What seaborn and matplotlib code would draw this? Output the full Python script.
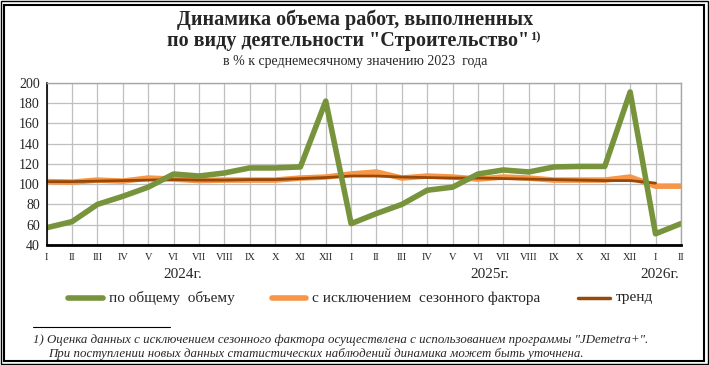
import numpy as np
import pandas as pd
import matplotlib.pyplot as plt
import seaborn as sns
from matplotlib.patches import Rectangle
from matplotlib.lines import Line2D

months = ['I', 'II', 'III', 'IV', 'V', 'VI', 'VII', 'VIII', 'IX', 'X', 'XI', 'XII',
          'I', 'II', 'III', 'IV', 'V', 'VI', 'VII', 'VIII', 'IX', 'X', 'XI', 'XII',
          'I', 'II']
years = ['2024г.', '2025г.', '2026г.']

total = [57, 63, 80, 88, 97, 110, 108, 111, 116, 116, 117, 182,
         61, 71, 80, 94, 97, 110, 114, 112, 117, 117.5, 117.5, 191,
         51, 61]
seasonal = [102.5, 102, 104, 103, 106, 105, 103.5, 104, 104, 104, 106, 107,
            110, 112, 106, 108, 107, 105, 107, 106, 104, 104, 104, 107,
            98, 98]
trend = [102.5, 102.5, 103, 103.5, 104, 104.5, 104, 104, 104.5, 104.5, 105.5, 106.5,
         108, 108, 107, 106.5, 106, 106, 105.5, 105, 104.5, 104, 103.5, 103.5,
         101, np.nan]

df = pd.DataFrame({'x': np.arange(len(months)), 'total': total,
                   'seasonal': seasonal, 'trend': trend})

sns.set_style('white')
plt.rcParams['font.family'] = ['Liberation Serif', 'DejaVu Serif']

W, H = 710, 365
fig = plt.figure(figsize=(W / 100, H / 100), dpi=100)
ax = fig.add_axes([0.0658, 0.329, 0.8932, 0.444])

green = '#77933C'
orange = '#F79646'
brown = '#984807'

sns.lineplot(data=df, x='x', y='seasonal', color=orange, lw=4, ax=ax)
sns.lineplot(data=df, x='x', y='trend', color=brown, lw=2, ax=ax)
sns.lineplot(data=df, x='x', y='total', color=green, lw=4, ax=ax)

ax.set_xlim(0, len(months) - 1)
ax.set_ylim(40, 200)
ax.set_yticks(range(40, 201, 20))
ax.set_xticks(df['x'])
ax.set_xticklabels(months, fontsize=7.5)
ax.tick_params(axis='y', labelsize=10, length=3, width=1, direction='out', pad=2)
ax.tick_params(axis='x', length=3, width=1, direction='inout', pad=4)
ax.set_xlabel('')
ax.set_ylabel('')
ax.grid(True, color='#BFBFBF', lw=0.9)
ax.set_axisbelow(True)
for s in ['top', 'right']:
    ax.spines[s].set_color('#A6A6A6')
    ax.spines[s].set_linewidth(1)
ax.spines['bottom'].set_color('black')
ax.spines['bottom'].set_linewidth(2)
ax.spines['left'].set_color('black')
ax.spines['left'].set_linewidth(1.2)


def fx(px):
    return px / W


def fy(py):
    return 1 - py / H


# year labels
for xp, yr in zip([183, 490, 660], years):
    fig.text(fx(xp), fy(275), yr, ha='center', va='center', fontsize=11)

# title
fig.text(0.5, fy(20), 'Динамика объема работ, выполненных',
         ha='center', va='center', fontsize=14.5, fontweight='bold')
t2 = fig.text(fx(348), fy(41), 'по виду деятельности "Строительство"',
              ha='center', va='center', fontsize=14.5, fontweight='bold')
fig.canvas.draw()
bb = t2.get_window_extent()
fig.text(bb.x1 / W + 0.002, fy(37), '1)', ha='left', va='center',
         fontsize=9, fontweight='bold')
fig.text(0.5, fy(62), 'в % к среднемесячному значению 2023  года',
         ha='center', va='center', fontsize=10)

# legend, placed by hand
leg = [(68, 103, green, 4, 'по общему  объему'),
       (272, 306, orange, 4, 'с исключением  сезонного фактора'),
       (578, 610, brown, 2.5, 'тренд')]
for x0, x1, c, lw, lab in leg:
    fig.add_artist(Line2D([fx(x0), fx(x1)], [fy(298)] * 2, color=c, lw=lw,
                          solid_capstyle='round'))
    fig.text(fx(x1 + 6), fy(298), lab, ha='left', va='center', fontsize=11)

# footnote
fig.add_artist(Line2D([fx(33), fx(170)], [fy(327)] * 2, color='black', lw=0.8))
fig.text(fx(33), fy(340),
         '1) Оценка данных с исключением сезонного фактора осуществлена с использованием программы "JDemetra+".',
         ha='left', va='center', fontsize=9.3, style='italic')
fig.text(fx(48), fy(354),
         'При поступлении новых данных статистических наблюдений динамика может быть уточнена.',
         ha='left', va='center', fontsize=9.3, style='italic')

# double frame
fig.add_artist(Rectangle((fx(1), 1 / H), 707 / W, 363 / H, fill=False,
                         ec='black', lw=1, transform=fig.transFigure))
fig.add_artist(Rectangle((fx(4), 4 / H), 700 / W, 356 / H, fill=False,
                         ec='black', lw=1.5, transform=fig.transFigure))

fig.savefig('out.png', dpi=100)
